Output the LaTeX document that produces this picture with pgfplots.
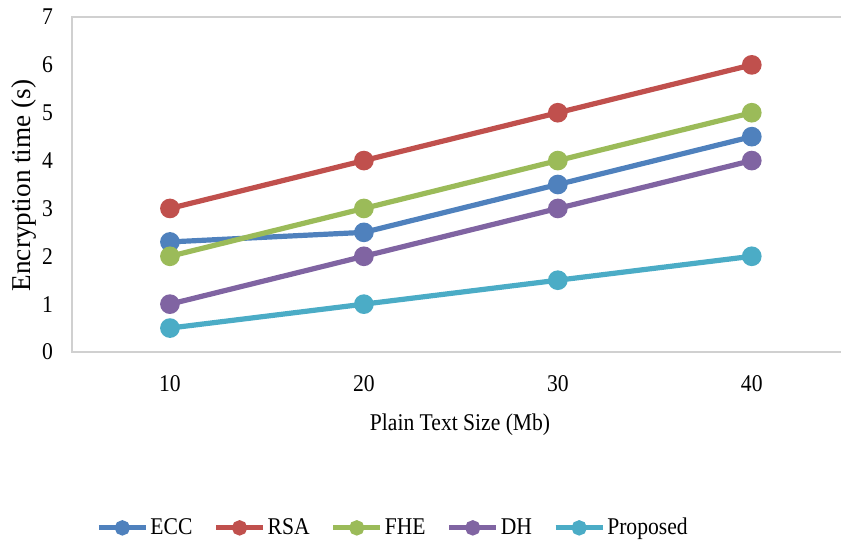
\documentclass[border=0pt]{standalone}
\usepackage{pgfplots}
\pgfplotsset{compat=1.18}
\usepackage{fontspec}
\setmainfont[FakeStretch=0.9]{Liberation Serif}
\newfontfamily\labelfont{Liberation Serif}

\definecolor{cECC}{HTML}{4F81BD}
\definecolor{cRSA}{HTML}{C0504D}
\definecolor{cFHE}{HTML}{9BBB59}
\definecolor{cDH}{HTML}{8064A2}
\definecolor{cPro}{HTML}{4BACC6}
\definecolor{frame}{HTML}{D0D0D0}

\begin{document}
\begin{tikzpicture}
\begin{axis}[
  name=ax,
  at={(0,0)}, anchor=south west,
  scale only axis,
  width=384.5pt, height=167.5pt,
  xmin=-0.505, xmax=3.46,
  ymin=0, ymax=7,
  xtick={0,1,2,3},
  xticklabels={10,20,30,40},
  ytick={0,1,...,7},
  major tick length=0pt,
  axis line style={draw=none},
  clip=false,
  font=\fontsize{12}{14}\selectfont,
  /pgf/number format/assume math mode=true,
  yticklabel style={anchor=east, xshift=-6pt},
  xticklabel style={anchor=north, yshift=-8pt},
  xlabel={Plain Text Size (Mb)},
  ylabel={\labelfont\fontsize{13.6}{15}\selectfont Encryption time (s)},
  xlabel style={at={(axis description cs:0.5046,-0.218)}, anchor=center},
  ylabel style={at={(axis description cs:-0.062,0.497)}, anchor=center},
  every axis plot/.append style={line width=2.6pt, mark=*, mark size=3.6pt},
  legend columns=5,
  legend style={draw=none, fill=none, at={(axis description cs:0.4174,-0.525)}, anchor=center,
    nodes={inner xsep=1pt},
    /tikz/every even column/.append style={column sep=9.5pt},
    font=\fontsize{12}{14}\selectfont},
  legend image code/.code={
    \draw[mark repeat=2, mark phase=2, #1, mark size=2.5pt]
      plot coordinates {(0pt,0pt) (11.75pt,0pt) (23.5pt,0pt)};},
]
\draw[frame, line width=1pt] (rel axis cs:1,1) -- (rel axis cs:0,1) -- (rel axis cs:0,0) -- (rel axis cs:1,0);

\addplot[color=cECC] coordinates {(0,2.3) (1,2.5) (2,3.5) (3,4.5)};
\addlegendentry{ECC}
\addplot[color=cRSA] coordinates {(0,3) (1,4) (2,5) (3,6)};
\addlegendentry{RSA}
\addplot[color=cFHE] coordinates {(0,2) (1,3) (2,4) (3,5)};
\addlegendentry{FHE}
\addplot[color=cDH] coordinates {(0,1) (1,2) (2,3) (3,4)};
\addlegendentry{DH}
\addplot[color=cPro] coordinates {(0,0.5) (1,1) (2,1.5) (3,2)};
\addlegendentry{Proposed}
\end{axis}
\pgfresetboundingbox
\useasboundingbox ([xshift=-36pt,yshift=-97pt]ax.south west) rectangle ([xshift=384.5pt,yshift=176pt]ax.south west);
\end{tikzpicture}
\end{document}
